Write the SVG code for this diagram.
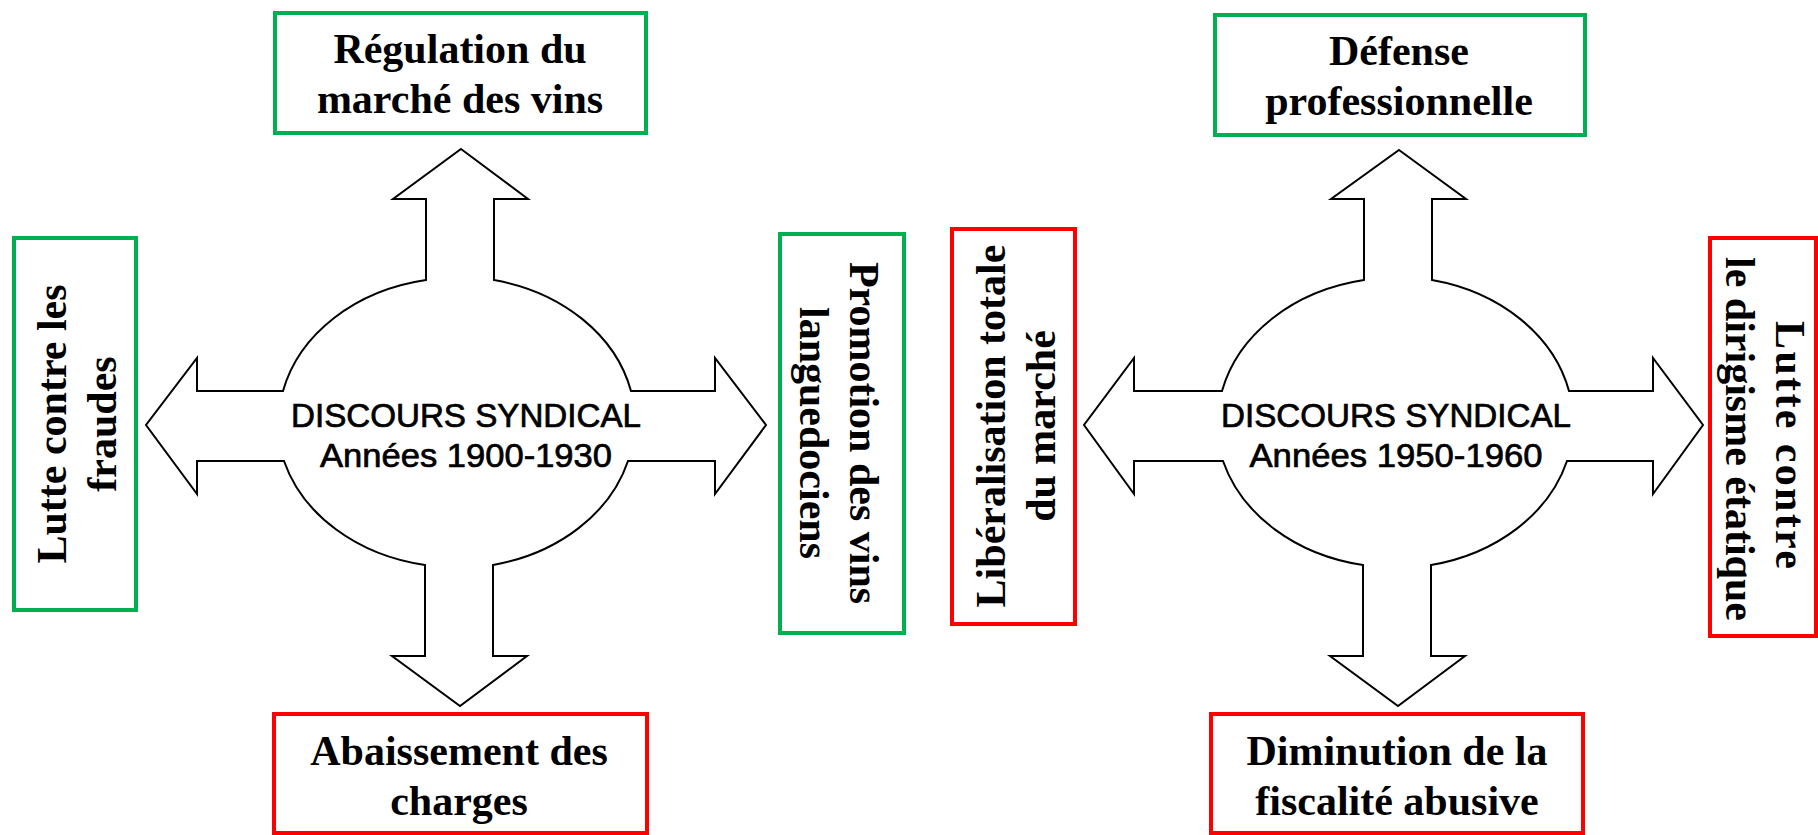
<svg xmlns="http://www.w3.org/2000/svg" width="1818" height="835" viewBox="0 0 1818 835">
<style>
.bg{fill:#ffffff}
.box{fill:#ffffff;stroke-width:4}
.g{stroke:#00B050}
.r{stroke:#FF0000}
.lbl{font-family:"Liberation Serif","Times New Roman",serif;font-weight:bold;font-size:42px;fill:#000;text-anchor:middle}
.hub{font-family:"Liberation Sans",Arial,sans-serif;font-size:33px;fill:#000;stroke:#000;stroke-width:0.7;text-anchor:middle}
.arrow{fill:#ffffff;stroke:#000;stroke-width:2;stroke-linejoin:miter}
</style>
<rect class="bg" x="0" y="0" width="1818" height="835"/>
<g id="connectors">
<path class="arrow" d="M 461 149 L 528 199 L 494 199 L 494 280 A 179 146 0 0 1 631 391 L 715 391 L 715 358 L 766 425 L 715 494 L 715 461 L 628 461 A 179 146 0 0 1 493 565 L 493 656 L 527 656 L 460 706 L 392 656 L 425 656 L 425 565 A 179 146 0 0 1 284 461 L 197 461 L 197 494 L 146 425 L 197 358 L 197 391 L 283 391 A 179 146 0 0 1 426 280 L 426 199 L 393 199 Z"/>
<path class="arrow" d="M 1399 150 L 1466 199 L 1432 199 L 1432 280 A 179 146 0 0 1 1569 391 L 1653 391 L 1653 358 L 1703 425 L 1653 494 L 1653 461 L 1567 461 A 179 146 0 0 1 1431 565 L 1431 656 L 1465 656 L 1398 706 L 1330 656 L 1363 656 L 1363 565 A 179 146 0 0 1 1223 461 L 1134 461 L 1134 494 L 1084 425 L 1134 358 L 1134 391 L 1222 391 A 179 146 0 0 1 1364 280 L 1364 199 L 1331 199 Z"/>
</g>
<g id="hub-1900">
<text class="hub" x="466" y="427" textLength="350" lengthAdjust="spacingAndGlyphs">DISCOURS SYNDICAL</text>
<text class="hub" x="466" y="467" textLength="292" lengthAdjust="spacingAndGlyphs">Années 1900-1930</text>
</g>
<g id="hub-1950">
<text class="hub" x="1396" y="427" textLength="350" lengthAdjust="spacingAndGlyphs">DISCOURS SYNDICAL</text>
<text class="hub" x="1396" y="467" textLength="293" lengthAdjust="spacingAndGlyphs">Années 1950-1960</text>
</g>
<g id="regulation">
<rect class="box g" x="275" y="13" width="371" height="120"/>
<text class="lbl" x="460" y="63">Régulation du</text>
<text class="lbl" x="460" y="113">marché des vins</text>
</g>
<g id="fraudes">
<rect class="box g" x="14" y="238" width="122" height="372"/>
<text class="lbl" transform="translate(66,424) rotate(-90)"><tspan x="0" y="0">Lutte contre les</tspan><tspan x="0" dy="50">fraudes</tspan></text>
</g>
<g id="promotion">
<rect class="box g" x="780" y="234" width="124" height="399"/>
<text class="lbl" transform="translate(850,433) rotate(90)"><tspan x="0" y="0">Promotion des vins</tspan><tspan x="0" dy="50">languedociens</tspan></text>
</g>
<g id="abaissement">
<rect class="box r" x="274" y="714" width="373" height="119"/>
<text class="lbl" x="459" y="765">Abaissement des</text>
<text class="lbl" x="459" y="815">charges</text>
</g>
<g id="defense">
<rect class="box g" x="1215" y="15" width="370" height="120"/>
<text class="lbl" x="1399" y="65">Défense</text>
<text class="lbl" x="1399" y="115">professionnelle</text>
</g>
<g id="liberalisation">
<rect class="box r" x="952" y="229" width="123" height="395"/>
<text class="lbl" transform="translate(1005,426) rotate(-90)"><tspan x="0" y="0">Libéralisation totale</tspan><tspan x="0" dy="50">du marché</tspan></text>
</g>
<g id="dirigisme">
<rect class="box r" x="1710" y="238" width="106" height="398"/>
<text class="lbl" transform="translate(1776,439) rotate(90)"><tspan x="6" y="0" textLength="248" lengthAdjust="spacing">Lutte contre</tspan></text>
<text class="lbl" transform="translate(1726,439) rotate(90)"><tspan x="0" y="0">le dirigisme étatique</tspan></text>
</g>
<g id="diminution">
<rect class="box r" x="1211" y="714" width="372" height="119"/>
<text class="lbl" x="1397" y="765">Diminution de la</text>
<text class="lbl" x="1397" y="815">fiscalité abusive</text>
</g>
</svg>
